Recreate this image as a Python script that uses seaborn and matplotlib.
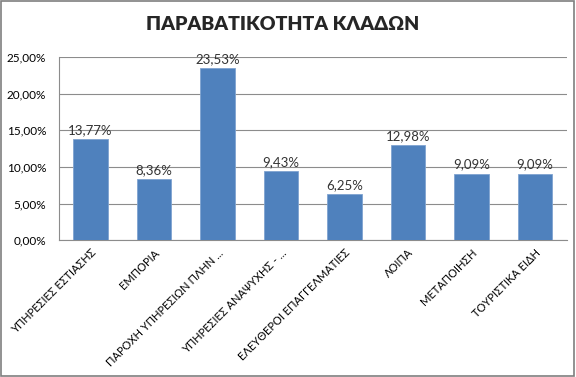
import matplotlib
matplotlib.use('Agg')
import matplotlib.pyplot as plt
import seaborn as sns
import pandas as pd
from matplotlib.ticker import FuncFormatter
from matplotlib.patches import Rectangle

categories = ['ΥΠΗΡΕΣΙΕΣ ΕΣΤΙΑΣΗΣ', 'ΕΜΠΟΡΙΑ', 'ΠΑΡΟΧΗ ΥΠΗΡΕΣΙΩΝ ΠΛΗΝ ...',
              'ΥΠΗΡΕΣΙΕΣ ΑΝΑΨΥΧΗΣ - ...', 'ΕΛΕΥΘΕΡΟΙ ΕΠΑΓΓΕΛΜΑΤΙΕΣ', 'ΛΟΙΠΑ',
              'ΜΕΤΑΠΟΙΗΣΗ', 'ΤΟΥΡΙΣΤΙΚΑ ΕΙΔΗ']
values = [13.77, 8.36, 23.53, 9.43, 6.25, 12.98, 9.09, 9.09]
yticks = [0, 5, 10, 15, 20, 25]
title = 'ΠΑΡΑΒΑΤΙΚΟΤΗΤΑ ΚΛΑΔΩΝ'

sns.set_style('white')
plt.rcParams['font.family'] = ['Lato', 'DejaVu Sans']

df = pd.DataFrame({'cat': categories, 'val': values})

fig = plt.figure(figsize=(5.76, 3.77), dpi=100)
ax = fig.add_axes([0.102, 0.363, 0.882, 0.486])
sns.barplot(data=df, x='cat', y='val', color='#4F81BD', saturation=1, width=0.55,
            edgecolor='#7FA3D0', linewidth=0.6, ax=ax, zorder=3)

ax.set_ylim(0, 25)
ax.set_yticks(yticks)
ax.yaxis.set_major_formatter(FuncFormatter(lambda v, p: f'{v:.2f}%'.replace('.', ',')))
ax.grid(axis='y', color='#8C8C8C', linewidth=0.8, zorder=0)
ax.set_xlabel('')
ax.set_ylabel('')
for s in ['top', 'right']:
    ax.spines[s].set_visible(False)
ax.spines['left'].set_color('#8C8C8C')
ax.spines['bottom'].set_color('#8C8C8C')
ax.tick_params(axis='y', length=0, labelsize=8.5, colors='black', pad=9)
ax.tick_params(axis='x', length=0, labelsize=8, colors='black', pad=5)
ax.set_xticks(range(len(categories)))
ax.set_xticklabels(categories, rotation=45, ha='right', rotation_mode='anchor')

for i, v in enumerate(values):
    ax.text(i, v + 0.4, f'{v:.2f}%'.replace('.', ','), ha='center', va='bottom',
            fontsize=9.5, color='#333333')

fig.text(0.491, 0.935, title, ha='center', va='center', fontsize=14, fontweight='heavy')
fig.patches.append(Rectangle((0.002, 0.003), 0.994, 0.994, transform=fig.transFigure,
                             fill=False, edgecolor='#7F7F7F', linewidth=1.2))

fig.savefig('out.png', dpi=100)
